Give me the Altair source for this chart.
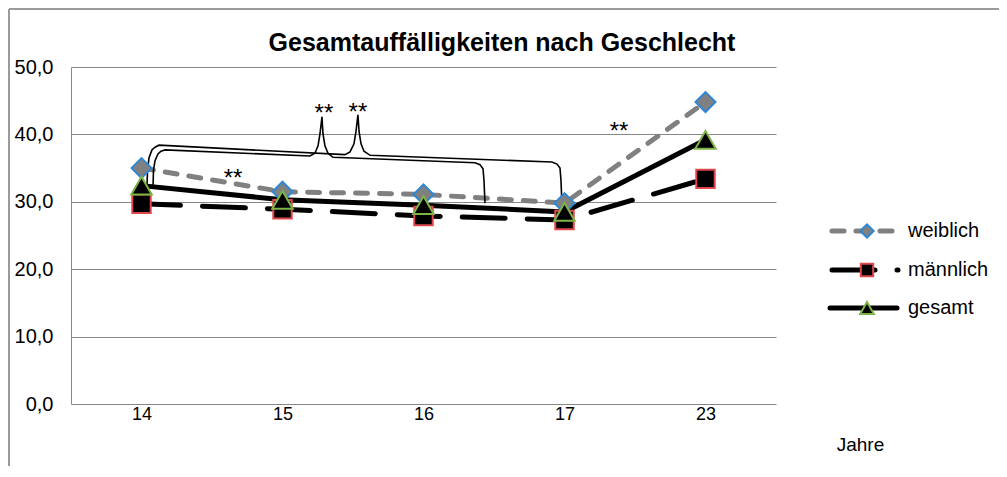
import altair as alt
import pandas as pd

# ---------------- data ----------------
title_text = "Gesamtauffälligkeiten nach Geschlecht"
years = ["14", "15", "16", "17", "23"]
series_names = ["weiblich", "männlich", "gesamt"]
weiblich = [35.0, 31.5, 31.1, 29.8, 44.8]
maennlich = [29.7, 28.9, 27.9, 27.3, 33.4]
gesamt = [32.4, 30.3, 29.5, 28.5, 39.2]

# significance braces (x in category-index units, y in value units)
brace_outer_x = [0.039, 0.043, 0.053, 0.074, 0.096, 0.124, 1.443, 1.479, 1.507, 1.521, 1.535,
                 1.543, 1.557, 1.578, 1.621, 2.911, 2.947, 2.968, 2.975, 2.982]
brace_outer_y = [32.5, 34.7, 36.5, 37.7, 38.1, 38.4, 37.0, 37.4, 38.6, 40.4, 42.9,
                 40.4, 38.6, 37.5, 36.9, 35.9, 35.6, 35.0, 33.2, 29.5]
brace_inner_x = [0.082, 0.085, 0.096, 0.117, 0.138, 0.167, 1.195, 1.230, 1.252, 1.266, 1.280,
                 1.287, 1.301, 1.323, 1.358, 2.365, 2.401, 2.422, 2.429, 2.436]
brace_inner_y = [32.5, 34.7, 36.1, 37.1, 37.5, 37.7, 36.8, 37.2, 38.3, 40.1, 42.6,
                 40.1, 38.3, 37.2, 36.6, 35.8, 35.5, 34.9, 33.2, 29.8]

star_labels = ["**", "**", "**", "**"]
star_x = [1.294, 1.535, 0.649, 3.387]
star_y = [42.05, 42.15, 32.35, 39.25]

y_ticks = [0, 10, 20, 30, 40, 50]

# ---------------- tables ----------------
values = {"weiblich": weiblich, "männlich": maennlich, "gesamt": gesamt}
rows = []
for s in series_names:
    for i, (yr, v) in enumerate(zip(years, values[s])):
        rows.append({"series": s, "idx": i, "year": yr, "value": v})
df = pd.DataFrame(rows)

brace_rows = []
for b, (bx, by) in enumerate([(brace_outer_x, brace_outer_y), (brace_inner_x, brace_inner_y)]):
    for k, (xx, yy) in enumerate(zip(bx, by)):
        brace_rows.append({"brace": b, "k": k, "idx": xx, "value": yy})
braces = pd.DataFrame(brace_rows)

stars = pd.DataFrame({"idx": star_x, "value": star_y, "label": star_labels})

FONT = "Liberation Sans"
GRID = "#878787"

label_expr = "[" + ",".join("'%s'" % y for y in years) + "][datum.value]"

x_axis = alt.Axis(values=list(range(len(years))), labelExpr=label_expr, grid=False, domain=False,
                  ticks=False, labelPadding=1, labelFontSize=18, labelFont=FONT, labelColor="black",
                  title="Jahre", titleX=789, titleY=40, titleAlign="center", titleBaseline="middle",
                  titleFontWeight="normal", titleFontSize=19, titleFont=FONT, titleColor="black")
y_axis = alt.Axis(values=y_ticks, labelExpr="replace(format(datum.value, '.1f'), '.', ',')",
                  grid=True, gridColor=GRID, gridWidth=1, gridOpacity=1,
                  domain=True, domainColor=GRID, domainWidth=1,
                  ticks=False, labelPadding=18, labelFontSize=20, labelFont=FONT, labelColor="black",
                  title=None)

X = alt.X("idx:Q", scale=alt.Scale(domain=[-0.5, len(years) - 0.5], nice=False, zero=False), axis=x_axis)
Y = alt.Y("value:Q", scale=alt.Scale(domain=[0, 50], nice=False), axis=y_axis)

style = {
    "weiblich": dict(color="#808080", dash=[12, 12], offset=0, shape="diamond", fill="#808080",
                     stroke="#2E86D4", size=400),
    "männlich": dict(color="#000000", dash=[43, 22], offset=4, shape="square", fill="#000000",
                     stroke="#E0474C", size=340),
    "gesamt": dict(color="#000000", dash=None, offset=0, shape="triangle-up", fill="#000000",
                   stroke="#7DB446", size=420),
}

layers = []
for s in series_names:
    st = style[s]
    kw = dict(color=st["color"], strokeWidth=5, strokeCap="round", strokeJoin="round")
    if st["dash"]:
        kw["strokeDash"] = st["dash"]
        kw["strokeDashOffset"] = st["offset"]
    layers.append(alt.Chart(df[df.series == s]).mark_line(**kw).encode(x=X, y=Y))

layers.append(alt.Chart(braces).mark_line(color="black", strokeWidth=1.6).encode(
    x=X, y=Y, detail="brace:N", order="k:Q"))

for s in series_names:
    st = style[s]
    layers.append(alt.Chart(df[df.series == s]).mark_point(
        shape=st["shape"], filled=True, fill=st["fill"], stroke=st["stroke"], strokeWidth=2,
        size=st["size"], opacity=1).encode(x=X, y=Y))

layers.append(alt.Chart(stars).mark_text(font=FONT, fontSize=24, color="black", baseline="alphabetic",
                                         align="center").encode(x=X, y=Y, text="label:N"))

# ---------------- legend (drawn) ----------------
leg_y = {"weiblich": 164, "männlich": 203, "gesamt": 241}
for s in series_names:
    st = style[s]
    ldf = pd.DataFrame({"label": [s]})
    kw = dict(color=st["color"], strokeWidth=5, strokeCap="round")
    if s == "weiblich":
        x1, x2 = 761, 822
        kw["strokeDash"] = [12, 12]
    elif s == "männlich":
        x1, x2 = 761, 827
        kw["strokeDash"] = [43, 22]
    else:
        x1, x2 = 759, 826
    layers.append(alt.Chart(ldf).mark_rule(**kw).encode(
        x=alt.value(x1), x2=alt.value(x2), y=alt.value(leg_y[s])))
    layers.append(alt.Chart(ldf).mark_point(
        shape=st["shape"], filled=True, fill=st["fill"], stroke=st["stroke"], strokeWidth=2,
        size=st["size"] * 0.45, opacity=1).encode(x=alt.value(796), y=alt.value(leg_y[s])))
    layers.append(alt.Chart(ldf).mark_text(font=FONT, fontSize=20, align="left", baseline="middle",
                                           color="black").encode(
        x=alt.value(837), y=alt.value(leg_y[s]), text="label:N"))

# chart title
layers.append(alt.Chart(pd.DataFrame({"t": [title_text]})).mark_text(
    font=FONT, fontSize=25, fontWeight="bold", color="black", align="center",
    baseline="alphabetic").encode(x=alt.value(431), y=alt.value(-16), text="t:N"))

# chart frame (top and left border)
frame = pd.DataFrame({"f": [0]})
layers.append(alt.Chart(frame).mark_rule(color="#9a9a9a", strokeWidth=2).encode(
    x=alt.value(-62), x2=alt.value(940), y=alt.value(-58)))
layers.append(alt.Chart(frame).mark_rule(color="#9a9a9a", strokeWidth=2).encode(
    x=alt.value(-62), y=alt.value(-58), y2=alt.value(420)))

chart = alt.layer(*layers).properties(
    width=705, height=337,
    autosize=alt.AutoSizeParams(type="none"),
    padding={"left": 63, "top": 59, "right": 223, "bottom": 62},
).configure_view(strokeWidth=0)

chart.save("out.html", embed_options={"renderer": "svg", "actions": False})
